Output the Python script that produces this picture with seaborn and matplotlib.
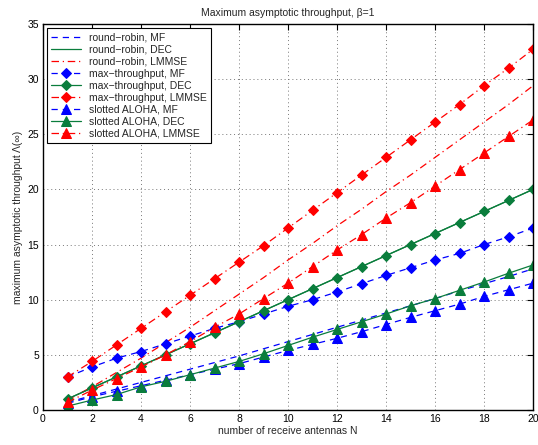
import numpy as np
import pandas as pd
import matplotlib
matplotlib.use('Agg')
import matplotlib.pyplot as plt
import seaborn as sns

N = list(range(1, 21))

rr_mf    = [0.7, 1.3, 1.9, 2.5, 3.1, 3.7, 4.3, 4.9, 5.55, 6.2, 6.85, 7.5, 8.15, 8.8, 9.45, 10.1, 10.8, 11.45, 12.1, 12.8]
rr_dec   = [1, 2, 3, 4, 5, 6, 7, 8, 9, 10, 11, 12, 13, 14, 15, 16, 17, 18, 19, 20]
rr_lmmse = [0.9, 2.1, 3.4, 4.7, 6.1, 7.5, 9.0, 10.5, 12.0, 13.6, 15.1, 16.7, 18.2, 19.8, 21.3, 22.9, 24.5, 26.1, 27.7, 29.4]

mt_mf    = [3.0, 3.9, 4.7, 5.3, 6.0, 6.7, 7.4, 8.0, 8.7, 9.4, 10.0, 10.7, 11.45, 12.2, 12.9, 13.6, 14.2, 15.0, 15.7, 16.5]
mt_dec   = [1, 2, 3, 4, 5, 6, 7, 8, 9, 10, 11, 12, 13, 14, 15, 16, 17, 18, 19, 20]
mt_lmmse = [3.0, 4.4, 5.9, 7.4, 8.9, 10.4, 11.9, 13.4, 14.9, 16.5, 18.1, 19.7, 21.3, 22.9, 24.5, 26.1, 27.7, 29.4, 31.0, 32.7]

sa_mf    = [0.6, 1.2, 1.7, 2.2, 2.7, 3.2, 3.7, 4.2, 4.8, 5.4, 5.95, 6.5, 7.1, 7.75, 8.4, 9.0, 9.6, 10.3, 10.9, 11.5]
sa_dec   = [0.35, 0.9, 1.4, 2.1, 2.6, 3.2, 3.8, 4.4, 5.1, 5.85, 6.6, 7.3, 8.0, 8.7, 9.45, 10.1, 10.85, 11.6, 12.4, 13.15]
sa_lmmse = [0.7, 1.8, 2.85, 3.9, 5.0, 6.2, 7.5, 8.7, 10.1, 11.5, 13.0, 14.5, 15.9, 17.4, 18.8, 20.3, 21.8, 23.3, 24.8, 26.3]

GREEN = '#0a7d3c'
DASH = (0, (5, 4))
DASHDOT = (0, (6, 3, 1, 3))

series = [
    ('round\u2212robin, MF',       rr_mf,    'blue', DASH,    None),
    ('round\u2212robin, DEC',      rr_dec,   GREEN,  '-',     None),
    ('round\u2212robin, LMMSE',    rr_lmmse, 'red',  DASHDOT, None),
    ('max\u2212throughput, MF',    mt_mf,    'blue', DASH,    'D'),
    ('max\u2212throughput, DEC',   mt_dec,   GREEN,  '-',     'D'),
    ('max\u2212throughput, LMMSE', mt_lmmse, 'red',  DASHDOT, 'D'),
    ('slotted ALOHA, MF',          sa_mf,    'blue', DASH,    '^'),
    ('slotted ALOHA, DEC',         sa_dec,   GREEN,  '-',     '^'),
    ('slotted ALOHA, LMMSE',       sa_lmmse, 'red',  DASHDOT, '^'),
]

sns.set_style('white')
plt.rcParams.update({
    'font.family': ['Liberation Sans', 'DejaVu Sans'],
    'xtick.direction': 'in',
    'ytick.direction': 'in',
    'xtick.top': True,
    'ytick.right': True,
    'xtick.major.size': 4,
    'ytick.major.size': 4,
    'xtick.major.width': 0.8,
    'ytick.major.width': 0.8,
    'xtick.color': 'black',
    'ytick.color': 'black',
    'axes.edgecolor': 'black',
    'axes.linewidth': 1.0,
})

fig = plt.figure(figsize=(5.38, 4.45), dpi=100)
ax = fig.add_axes([43/538, 35/445, 490/538, 386/445])

for label, vals, color, ls, marker in series:
    df = pd.DataFrame({'N': N, 'val': vals})
    msize = 5.5 if marker == 'D' else 6.5
    sns.lineplot(data=df, x='N', y='val', ax=ax, color=color, linestyle=ls,
                 linewidth=0.9, marker=marker, markersize=msize,
                 markeredgecolor=color, markerfacecolor=color, label=label)

ax.set_xlim(0, 20)
ax.set_ylim(0, 35)
ax.set_xticks(np.arange(0, 21, 2))
ax.set_yticks(np.arange(0, 36, 5))
ax.tick_params(labelsize=7.5, pad=3)
ax.grid(True, linestyle=(0, (1, 3)), color='#777777', linewidth=0.7)
for s in ax.spines.values():
    s.set_visible(True)

ax.set_xlabel('number of receive antennas N', fontsize=7.5, labelpad=1)
ax.set_ylabel('maximum asymptotic throughput \u039b(\u221e)', fontsize=7.5, labelpad=3)
ax.set_title('Maximum asymptotic throughput, \u03b2=1', fontsize=7.5, pad=6)

leg = ax.legend(loc='upper left', fontsize=7.5, frameon=True, fancybox=False,
                edgecolor='black', framealpha=1, borderpad=0.4, handlelength=2.8,
                labelspacing=0.2, borderaxespad=0.4)
leg.get_frame().set_linewidth(0.8)

fig.savefig('out.png', dpi=100)
